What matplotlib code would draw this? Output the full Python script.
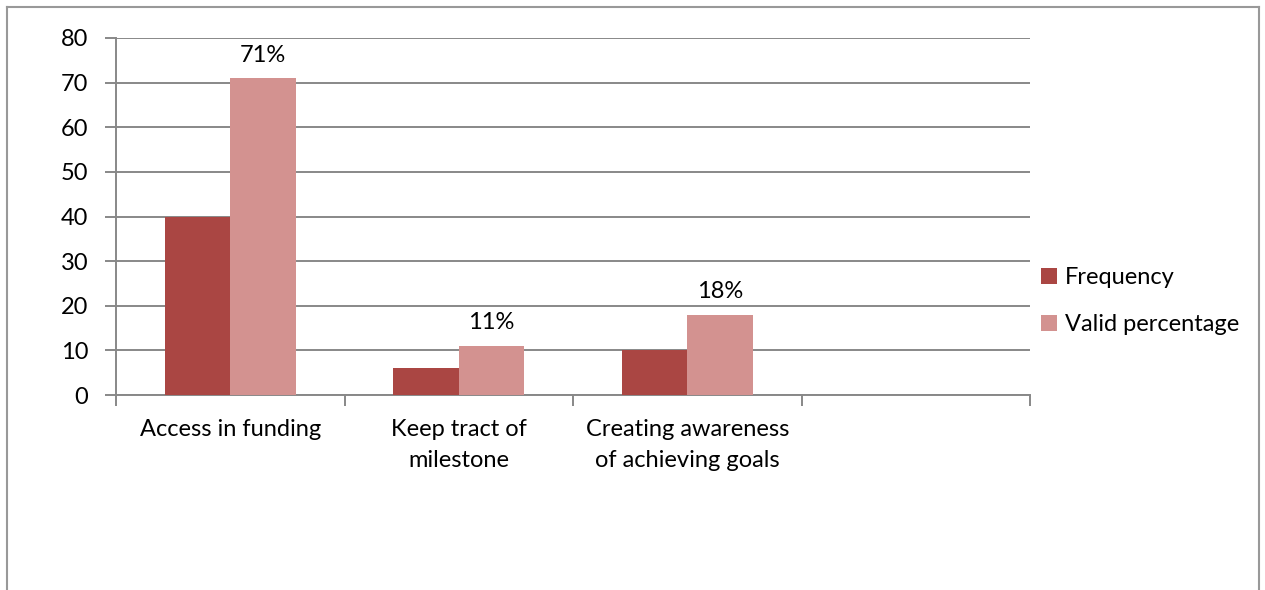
import matplotlib.pyplot as plt
from matplotlib.lines import Line2D
import numpy as np

plt.rcParams["font.family"] = ["Lato", "DejaVu Sans"]

categories = ["Access in funding", "Keep tract of\nmilestone", "Creating awareness\nof achieving goals", ""]
frequency = [40, 6, 10, 0]
valid_pct = [71, 11, 18, 0]
pct_labels = ["71%", "11%", "18%", ""]
y_ticks = [0, 10, 20, 30, 40, 50, 60, 70, 80]

c_freq = "#AA4643"
c_valid = "#D39290"
grid_c = "#888888"
fs = 17

fig = plt.figure(figsize=(12.65, 5.9), dpi=100)
ax = fig.add_axes([116 / 1265, 1 - 395 / 590, 914 / 1265, 357 / 590])

x = np.arange(len(categories)) + 0.5
w = 1 / 3.5
ax.bar(x - w / 2, frequency, w, color=c_freq, label="Frequency", zorder=3)
ax.bar(x + w / 2, valid_pct, w, color=c_valid, label="Valid percentage", zorder=3)

for xi, v, lab in zip(x, valid_pct, pct_labels):
    if lab:
        ax.annotate(lab, (xi + w / 2, v), xytext=(0, 9), textcoords="offset points",
                    ha="center", va="bottom", fontsize=fs)

ax.set_xlim(0, len(categories))
ax.set_ylim(0, 80)
ax.set_yticks(y_ticks)
ax.yaxis.grid(True, color=grid_c, linewidth=1.4, zorder=0)
ax.set_axisbelow(True)

ax.set_xticks(np.arange(len(categories) + 1))
ax.set_xticklabels([])
ax.set_xticks(x, minor=True)
ax.set_xticklabels(categories, minor=True, fontsize=fs, linespacing=1.6)
ax.tick_params(axis="x", which="minor", length=0, pad=17)
ax.tick_params(axis="x", which="major", length=8, color=grid_c, width=1.4)
ax.tick_params(axis="y", length=8, color=grid_c, width=1.4, labelsize=fs, pad=12)

for s in ["top", "right"]:
    ax.spines[s].set_visible(False)
for s in ["left", "bottom"]:
    ax.spines[s].set_color(grid_c)
    ax.spines[s].set_linewidth(1.4)

handles, labels = ax.get_legend_handles_labels()
fig.legend(handles, labels, loc="center left", bbox_to_anchor=(1020 / 1265, 1 - 301 / 590),
           frameon=False, fontsize=fs, handlelength=0.65, handleheight=0.65,
           handletextpad=0.35, labelspacing=1.1)

# outer chart frame (bottom edge cut off in the reference)
fx0, fx1, fy1 = 7 / 1265, 1259 / 1265, 1 - 7 / 590
for xs, ys in [([fx0, fx0], [0, fy1]), ([fx0, fx1], [fy1, fy1]), ([fx1, fx1], [fy1, 0])]:
    fig.add_artist(Line2D(xs, ys, color="#999999", linewidth=1.5, transform=fig.transFigure))

plt.savefig("out.png", dpi=100)
plt.close()
